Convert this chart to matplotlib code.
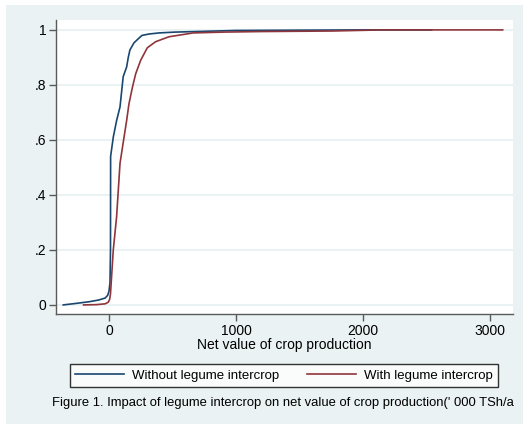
import matplotlib.pyplot as plt
from matplotlib.patches import Rectangle

plt.rcParams['font.family'] = ['Liberation Sans', 'DejaVu Sans']

# Cumulative distribution
blue_x = [-360, -250, -150, -80, -30, -10, 0, 8, 12, 13, 34, 60, 87, 112, 139, 152,
          165, 197, 236, 260, 315, 394, 520, 764, 1000, 1500, 2000, 2540]
blue_y = [0.0, 0.006, 0.012, 0.018, 0.025, 0.035, 0.05, 0.08, 0.2, 0.54, 0.61, 0.67,
          0.72, 0.83, 0.865, 0.90, 0.927, 0.953, 0.97, 0.98, 0.985, 0.989, 0.992,
          0.995, 0.998, 0.999, 1.0, 1.0]

red_x = [-200, -100, -30, -5, 5, 12, 34, 60, 87, 112, 139, 157, 184, 210, 250, 302,
         367, 472, 663, 900, 1200, 1760, 2150, 2600, 3100]
red_y = [0.0, 0.001, 0.004, 0.01, 0.02, 0.04, 0.2, 0.32, 0.515, 0.59, 0.67, 0.73,
         0.79, 0.84, 0.89, 0.935, 0.957, 0.975, 0.989, 0.992, 0.994, 0.996, 1.0,
         1.0, 1.0]

x_ticks = [0, 1000, 2000, 3000]
y_ticks = [0, 0.2, 0.4, 0.6, 0.8, 1]
y_labels = ['0', '.2', '.4', '.6', '.8', '1']

bg = '#eaf2f3'
W, H = 523, 424
fig = plt.figure(figsize=(W / 100, H / 100), dpi=100)
fig.patch.set_facecolor('white')
fig.patches.append(Rectangle((6 / W, 0), 1, 1 - 5 / H, transform=fig.transFigure,
                             facecolor=bg, edgecolor='none', zorder=-5))

ax = fig.add_axes([56 / W, 1 - 314 / H, (513 - 56) / W, (314 - 20) / H])
ax.set_facecolor('white')
ax.plot(blue_x, blue_y, color='#1a476f', lw=1.2, label='Without legume intercrop')
ax.plot(red_x, red_y, color='#90353b', lw=1.2, label='With legume intercrop')

ax.set_xlim(-417, 3181)
ax.set_ylim(-0.033, 1.036)
ax.set_xticks(x_ticks)
ax.set_yticks(y_ticks)
ax.set_yticklabels(y_labels)
ax.grid(axis='y', color=bg, lw=1.5)
ax.set_axisbelow(True)
for s in ['top', 'right']:
    ax.spines[s].set_visible(False)
for s in ['left', 'bottom']:
    ax.spines[s].set_color('#5a5a5a')
    ax.spines[s].set_linewidth(1.0)
ax.tick_params(direction='out', length=5, width=1, color='#5a5a5a', labelsize=10, pad=2)
ax.set_xlabel('Net value of crop production', fontsize=10, labelpad=0)

leg = fig.legend(loc='center', ncol=2, mode='expand',
                 bbox_to_anchor=(70 / W, 1 - 389 / H, 428 / W, 27 / H),
                 fontsize=9.5, handlelength=3.7, handletextpad=0.6,
                 frameon=True, fancybox=False, borderaxespad=0)
leg.get_frame().set_edgecolor('black')
leg.get_frame().set_linewidth(1.0)

fig.text(52 / W, 1 - 403 / H,
         "Figure 1. Impact of legume intercrop on net value of crop production(' 000 TSh/a",
         fontsize=9.4, ha='left', va='center')

fig.savefig('out.png', dpi=100)
